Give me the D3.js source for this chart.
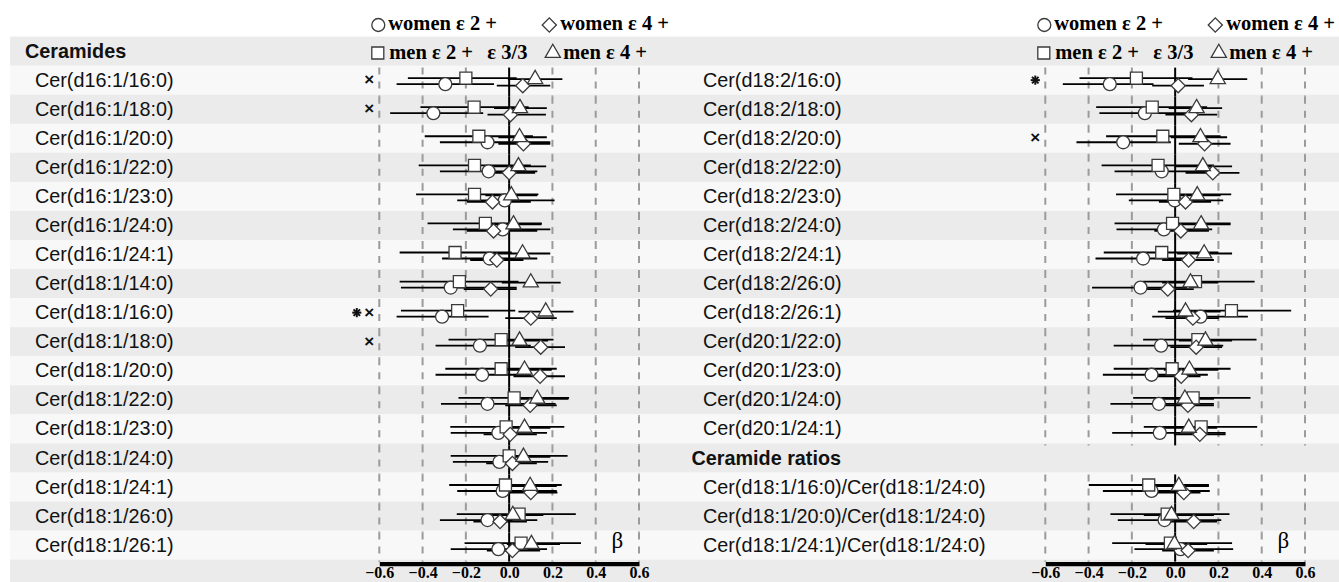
<!DOCTYPE html>
<html><head><meta charset="utf-8">
<script src="https://cdn.jsdelivr.net/npm/d3@7"></script>
<style>body{margin:0;background:#fff;} svg{display:block}</style>
</head><body>
<svg id="chart" width="1339" height="582"></svg>
<script>
// ---------------- DATA ----------------
const leftHeader = "Ceramides";
const leftLabels = ["Cer(d16:1/16:0)","Cer(d16:1/18:0)","Cer(d16:1/20:0)","Cer(d16:1/22:0)","Cer(d16:1/23:0)",
  "Cer(d16:1/24:0)","Cer(d16:1/24:1)","Cer(d18:1/14:0)","Cer(d18:1/16:0)","Cer(d18:1/18:0)","Cer(d18:1/20:0)",
  "Cer(d18:1/22:0)","Cer(d18:1/23:0)","Cer(d18:1/24:0)","Cer(d18:1/24:1)","Cer(d18:1/26:0)","Cer(d18:1/26:1)"];
const rightLabels = ["Cer(d18:2/16:0)","Cer(d18:2/18:0)","Cer(d18:2/20:0)","Cer(d18:2/22:0)","Cer(d18:2/23:0)",
  "Cer(d18:2/24:0)","Cer(d18:2/24:1)","Cer(d18:2/26:0)","Cer(d18:2/26:1)","Cer(d20:1/22:0)","Cer(d20:1/23:0)",
  "Cer(d20:1/24:0)","Cer(d20:1/24:1)","Ceramide ratios","Cer(d18:1/16:0)/Cer(d18:1/24:0)",
  "Cer(d18:1/20:0)/Cer(d18:1/24:0)","Cer(d18:1/24:1)/Cer(d18:1/24:0)"];
const rightHeaderIndex = 13;

// [estimate, lower, upper]
const leftWomenE2 = [[-0.295,-0.52,-0.07],[-0.35,-0.55,-0.12],[-0.10,-0.32,0.19],[-0.095,-0.32,0.13],[-0.02,-0.24,0.21],
  [-0.03,-0.26,0.19],[-0.09,-0.31,0.13],[-0.27,-0.50,0.035],[-0.31,-0.52,-0.095],[-0.135,-0.34,0.10],[-0.125,-0.34,0.10],
  [-0.10,-0.315,0.215],[-0.05,-0.27,0.175],[-0.045,-0.26,0.18],[-0.03,-0.24,0.22],[-0.10,-0.32,0.13],[-0.05,-0.27,0.175]];
const leftWomenE4 = [[0.063,-0.057,0.19],[0.006,-0.10,0.17],[0.066,-0.05,0.19],[0.0,-0.10,0.12],[-0.077,-0.195,0.10],
  [-0.072,-0.195,0.13],[-0.057,-0.18,0.066],[-0.085,-0.21,0.035],[0.10,-0.018,0.22],[0.146,0.028,0.258],[0.143,0.02,0.258],
  [0.097,-0.018,0.22],[0.005,-0.118,0.128],[0.015,-0.106,0.128],[0.10,-0.018,0.223],[-0.042,-0.165,0.082],[0.015,-0.103,0.143]];
const leftMenE2 = [[-0.20,-0.468,0.035],[-0.162,-0.41,0.09],[-0.14,-0.39,0.11],[-0.16,-0.418,0.10],[-0.16,-0.43,0.135],
  [-0.11,-0.377,0.151],[-0.25,-0.506,0.012],[-0.23,-0.506,0.043],[-0.238,-0.50,0.028],[-0.037,-0.28,0.205],[-0.037,-0.295,0.22],
  [0.023,-0.234,0.277],[-0.014,-0.272,0.255],[0.0,-0.27,0.27],[-0.017,-0.277,0.243],[0.046,-0.242,0.308],[0.055,-0.206,0.332]];
const leftMenE4 = [[0.12,-0.006,0.246],[0.05,-0.07,0.174],[0.048,-0.05,0.174],[0.043,-0.088,0.171],[0.01,-0.11,0.13],
  [0.02,-0.11,0.15],[0.062,-0.07,0.19],[0.10,-0.034,0.238],[0.169,0.043,0.297],[0.048,-0.06,0.18],[0.071,-0.057,0.197],
  [0.13,0.005,0.274],[0.071,-0.026,0.19],[0.066,-0.05,0.19],[0.097,-0.011,0.22],[0.017,-0.118,0.158],[0.103,-0.011,0.235]];

const rightWomenE2 = [[-0.302,-0.519,-0.10],[-0.14,-0.35,0.08],[-0.24,-0.456,-0.02],[-0.062,-0.28,0.156],[-0.002,-0.214,0.222],
  [-0.052,-0.271,0.171],[-0.148,-0.368,0.063],[-0.16,-0.384,0.055],[0.117,-0.106,0.336],[-0.065,-0.284,0.222],[-0.109,-0.334,0.151],
  [-0.075,-0.299,0.179],[-0.071,-0.291,0.233],null,[-0.109,-0.334,0.16],[-0.049,-0.265,0.213],[0.025,-0.188,0.268]];
const rightWomenE4 = [[0.014,-0.106,0.133],[0.075,-0.045,0.194],[0.136,0.017,0.256],[0.174,0.048,0.297],[0.048,-0.075,0.166],
  [0.026,-0.096,0.156],[0.062,-0.06,0.179],[-0.034,-0.16,0.086],[0.082,-0.045,0.202],[0.097,-0.022,0.217],[0.028,-0.096,0.117],
  [0.059,-0.052,0.179],[0.114,-0.006,0.233],null,[0.04,-0.083,0.117],[0.086,-0.037,0.194],[0.06,-0.06,0.179]];
const rightMenE2 = [[-0.179,-0.442,0.08],[-0.106,-0.365,0.148],[-0.057,-0.319,0.21],[-0.079,-0.34,0.18],[-0.006,-0.273,0.259],
  [-0.012,-0.28,0.256],[-0.062,-0.33,0.20],[0.094,-0.15,0.367],[0.26,-0.01,0.536],[0.105,-0.148,0.376],[-0.014,-0.284,0.256],
  [0.083,-0.194,0.348],[0.12,-0.145,0.379],null,[-0.122,-0.399,0.156],[-0.037,-0.299,0.251],[-0.022,-0.291,0.263]];
const rightMenE4 = [[0.197,0.06,0.333],[0.099,-0.03,0.217],[0.117,-0.02,0.24],[0.128,0.0,0.263],[0.102,-0.006,0.21],
  [0.12,-0.006,0.256],[0.134,0.009,0.263],[0.071,-0.06,0.20],[0.048,-0.08,0.21],[0.14,0.017,0.263],[0.066,-0.052,0.20],
  [0.045,-0.083,0.179],[0.063,-0.052,0.194],null,[0.017,-0.114,0.156],[-0.017,-0.145,0.179],[-0.003,-0.137,0.148]];

const leftSig = ["×","×","","","","","","","✱×","×","","","","","","",""];
const rightSig = ["✱","","×","","","","","","","","","","","","","",""];

const tickValues = [-0.6,-0.4,-0.2,0,0.2,0.4,0.6];
const gridValues = [-0.6,-0.4,-0.2,0.2,0.4,0.6];
const legendTop = ["women ε 2 +","women ε 4 +"];
const legendBottom = ["men ε 2 +","ε 3/3","men ε 4 +"];
const axisTitle = "β";

// ---------------- LAYOUT ----------------
const svg = d3.select("#chart");
const rowY = d3.scaleLinear().domain([0,1]).range([7.5, 36.56]);
const rowH = rowY(1) - rowY(0);
const rowC = r => rowY(r) + rowH/2;
const xLeft = d3.scaleLinear().domain([-0.6,0.6]).range([379.3,639]);
const xRight = d3.scaleLinear().domain([-0.6,0.6]).range([1045.3,1305]);

// background bands
svg.append("g").selectAll("rect").data(d3.range(20)).join("rect")
  .attr("x",10).attr("width",1329)
  .attr("y",i=>rowY(i)).attr("height",rowH+0.3)
  .attr("fill",i=> i===0 ? "#ffffff" : (i%2===1 ? "#eaebea" : "#f8f8f8"));

const sym = {
  circle: d3.symbol().type(d3.symbolCircle).size(132)(),
  square: d3.symbol().type(d3.symbolSquare).size(144)(),
  diamond: d3.symbol().type(d3.symbolSquare).size(100)(),
  triangle: d3.symbol().type(d3.symbolTriangle).size(100)()
};
const MSTROKE = "#3a3a3a";

function drawMarker(g, kind, cx, cy) {
  const p = g.append("path").attr("d", sym[kind])
    .attr("fill","#fff").attr("stroke",MSTROKE).attr("stroke-width",1.3);
  if (kind === "diamond") p.attr("transform",`translate(${cx},${cy}) rotate(45)`);
  else p.attr("transform",`translate(${cx},${cy})`);
}

function drawStar(g, cx, cy) {
  const s = g.append("g").attr("transform",`translate(${cx},${cy})`);
  [0,45,90,135].forEach(a=>{
    s.append("line").attr("x1",-4.6).attr("x2",4.6).attr("y1",0).attr("y2",0)
      .attr("transform",`rotate(${a})`).attr("stroke","#111").attr("stroke-width",2);
  });
}

function panel(x, labels, womenE2, womenE4, menE2, menE4, sig, labelX, headerIdx) {
  const g = svg.append("g");
  const rows = labels.map((l,i)=>({label:l, i, r:i+2, header: i===headerIdx}));
  const dataRows = rows.filter(d=>!d.header);

  // grid dashed lines per row
  dataRows.forEach(d=>{
    gridValues.forEach(v=>{
      g.append("line").attr("x1",x(v)).attr("x2",x(v))
        .attr("y1",rowY(d.r)+2).attr("y2",rowY(d.r+1)+2)
        .attr("stroke","#9b9b9b").attr("stroke-width",2).attr("stroke-dasharray","7,7");
    });
    g.append("line").attr("x1",x(0)).attr("x2",x(0))
      .attr("y1",rowY(d.r)+2).attr("y2",rowY(d.r+1)+2)
      .attr("stroke","#000").attr("stroke-width",2);
  });

  // labels
  g.selectAll("text.lab").data(rows).join("text")
    .attr("x", d=> d.header ? labelX-11.5 : labelX)
    .attr("y", d=> rowC(d.r)+6.6)
    .attr("font-family","'Liberation Sans', Arial, sans-serif")
    .attr("font-size", "19.8px")
    .attr("font-weight", d=> d.header ? "bold" : "normal")
    .attr("fill","#111")
    .text(d=>d.label);

  const series = [
    {data: menE2, kind:"square", dy:-2},
    {data: menE4, kind:"triangle", dy:-1},
    {data: womenE2, kind:"circle", dy:4},
    {data: womenE4, kind:"diamond", dy:5.5}
  ];
  // CI lines
  series.forEach(s=>{
    dataRows.forEach(d=>{
      const v = s.data[d.i];
      if (!v) return;
      g.append("line").attr("x1",x(v[1])).attr("x2",x(v[2]))
        .attr("y1",rowC(d.r)+s.dy).attr("y2",rowC(d.r)+s.dy)
        .attr("stroke","#000").attr("stroke-width",1.8);
    });
  });
  // markers
  const order = ["circle","square","diamond","triangle"];
  order.forEach(k=>{
    const s = series.find(q=>q.kind===k);
    dataRows.forEach(d=>{
      const v = s.data[d.i];
      if (!v) return;
      drawMarker(g, k, x(v[0]), rowC(d.r)+s.dy);
    });
  });

  // significance markers
  dataRows.forEach(d=>{
    const chars = Array.from(sig[d.i] || "");
    chars.reverse().forEach((c,j)=>{
      const cx = x(-0.6) - 10 - j*12.5;
      if (c === "✱") {
        drawStar(g, cx, rowC(d.r));
      } else {
        g.append("text").attr("x", cx).attr("y", rowC(d.r)+5)
          .attr("text-anchor","middle")
          .attr("font-family","'Liberation Sans', Arial, sans-serif")
          .attr("font-weight", "bold").attr("font-size","17px")
          .attr("fill","#111").text(c);
      }
    });
  });

  // legend
  const lx = x(-0.6);
  const lfont = "'Liberation Serif', 'Times New Roman', serif";
  drawMarker(g,"circle",lx-1,25);
  drawMarker(g,"diamond",lx+170,25);
  drawMarker(g,"square",lx-1.5,53);
  drawMarker(g,"triangle",lx+173.5,53);
  const lt = [
    {t:legendTop[0], x:lx+9, y:30},
    {t:legendTop[1], x:lx+181, y:30},
    {t:legendBottom[0], x:lx+10, y:58.5},
    {t:legendBottom[1], x:lx+108, y:58.5},
    {t:legendBottom[2], x:lx+184, y:58.5}
  ];
  g.selectAll("text.leg").data(lt).join("text")
    .attr("x",d=>d.x).attr("y",d=>d.y)
    .attr("font-family",lfont).attr("font-weight","bold").attr("font-size","20.5px")
    .attr("fill","#000").text(d=>d.t);

  // axis
  const ax = g.append("g").attr("transform",`translate(0,${rowC(19)-10.5})`)
    .call(d3.axisBottom(x).tickValues(tickValues).tickSize(0).tickSizeOuter(0).tickFormat(d3.format(".1f")));
  ax.select(".domain").attr("stroke","#000").attr("stroke-width",4.3);
  ax.selectAll("text").attr("y",14.5).attr("dy",0)
    .attr("font-family",lfont).attr("font-weight","bold").attr("font-size","16px").attr("fill","#000");

  g.append("text").attr("x",x(0.5)).attr("y",rowC(18)+2.5)
    .attr("text-anchor","middle").attr("font-family",lfont).attr("font-size","23px").attr("fill","#000")
    .text(axisTitle);
}

panel(xLeft, leftLabels, leftWomenE2, leftWomenE4, leftMenE2, leftMenE4, leftSig, 35, -1);
panel(xRight, rightLabels, rightWomenE2, rightWomenE4, rightMenE2, rightMenE4, rightSig, 703, rightHeaderIndex);

// left section header
svg.append("text").attr("x",25).attr("y",rowC(1)+6.8)
  .attr("font-family","'Liberation Sans', Arial, sans-serif").attr("font-size","19.8px")
  .attr("font-weight","bold").attr("fill","#111").text(leftHeader);
</script>
</body></html>
